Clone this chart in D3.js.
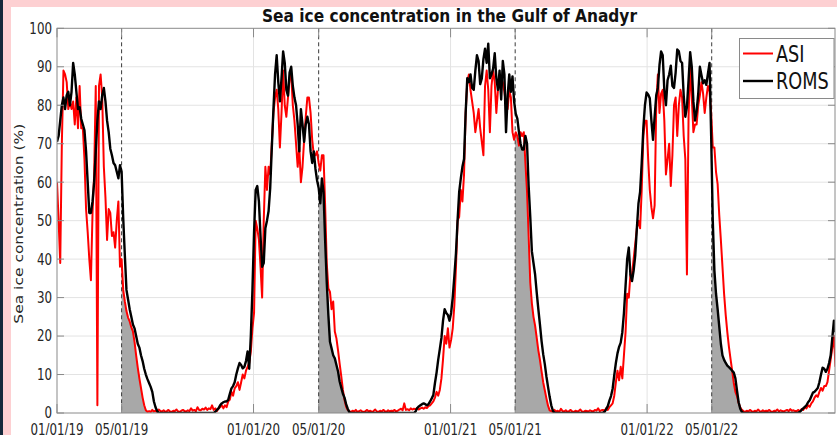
<!DOCTYPE html>
<head>
  <meta charset="utf-8" />
  <script src="https://d3js.org/d3.v7.min.js"></script>
  <style>
    body { margin: 0; background: #fdd0d2; }
    svg { display: block; }
    text { font-family: "DejaVu Sans", sans-serif; fill: #262626; }
  </style>
</head>
<body>
<script>
  // ---- data: values, one value every 3 days from 01/01/19
  var startDate = "2019-01-01";
  var stepDays = 3;

  var asi = [
    60,50,39,70,89,88,86,79,81,79,
    81,75,82,74,85,74,74,66,53,47,
    40,34.5,52,62,85,2,85,88,82,64,
    56,45,53,52,46,47,43,50,55,38,
    40,32,29,26.5,24.8,23.8,22.3,21.2,18.5,15,
    11.8,9,6.5,4,2,0.7,0.3,0.5,0.3,0.8,
    0.4,0.6,0.3,0.9,0.5,0.4,0.7,0.3,0.5,0.8,
    0.4,0.3,0.6,0.5,0.9,0.4,0.3,0.6,0.8,0.5,
    0.4,0.7,0.5,1.2,0.6,0.8,0.5,1.5,0.8,0.7,
    1.1,0.9,1.4,0.8,1.2,1,2,0.8,1.2,0.5,
    1.2,1.5,2,1.2,2,1.5,3,3.5,5.5,4.5,
    6.4,7,8,6,8,10,9,11,12,13,
    16,22,26,50,48,45,38,30,50,64,
    58,64,62,70,78,82,84,79,69,78,
    89,80,77,82,87,88,80,76,70,64,
    69,60,64,71,77,82,82,78,71,67,
    67,68,65,63,67,67,54,39,32.4,31.5,
    27,29,21.2,19.4,16.3,12.8,9.5,6,3.4,1.6,
    0.8,0.5,0.3,0.6,0.4,0.8,0.3,0.5,0.7,0.4,
    0.3,0.5,0.8,0.4,0.6,0.3,0.5,0.9,0.4,0.3,
    0.6,0.4,0.8,0.5,0.3,0.7,0.4,0.6,0.5,0.8,
    0.4,0.6,0.9,1.1,0.7,2.5,0.8,1,0.7,1.2,
    0.9,1.1,1,1.3,0.9,1.2,1.4,1.1,1.5,1.3,
    1.8,2,2.5,3,4,5.5,4.5,6,9,14,
    20,18,22,17,19,22,28,38,50,51,
    58,55,62,78,86,88,84,81,78,73,
    76,79,74,70.5,67,85,89,84,73,85,
    89,86,78,84,86,87,86,83.5,80,79,
    84,82,73,71,73,72,69.5,73,72,73,
    65,57.5,46,34,28.5,25,22.7,19.5,16.3,13.8,
    10.8,8,5.9,3.8,1.9,0.7,0.5,0.3,0.8,0.4,
    0.6,0.3,1.1,0.5,0.4,0.7,0.3,0.5,0.8,0.4,
    0.3,0.6,0.4,0.5,0.9,0.4,0.3,0.6,0.5,0.4,
    0.7,0.5,0.4,0.8,0.6,1.2,0.5,0.7,0.8,0.5,
    1.2,0.8,1.5,2,2.5,4.5,8,11,8.5,12,
    9,15,21,31,30,36,36,40,44,48,
    50,48,58,72,76,76,66,58,53.5,50.6,
    54,80,88,78,83,84,76,62,66,70,
    59,67,80,82,72,80,84,82,72,66,
    36,77,90,82,73,75,75,80,82.5,86,
    83,78,82,85,83.5,78,69,69,62.7,59.5,
    51.5,45,38,31,25.5,21,17.2,14,11,7.8,
    5.5,4.4,2.6,1.5,0.8,0.5,0.3,0.6,0.4,0.8,
    0.5,0.3,0.6,0.4,0.9,0.5,0.3,0.7,0.4,0.6,
    0.5,0.8,0.4,0.3,0.6,0.5,0.9,0.4,0.7,0.5,
    0.4,0.6,0.8,0.5,1,0.6,0.7,0.5,0.5,0.8,
    0.4,1,0.8,1.5,1.2,2,1.6,2.5,3,4,
    4.6,4.2,5.5,6.5,5.8,7,7,8,11,14,
    17,20,12
  ];

  var roms = [
    70.5,72,76,80,82,79,82.6,83.5,80,83.5,
    91,88,83.5,79,79.5,76.5,75,73.5,68,60,
    52,52,55,60,68,76,81,79,82.6,84.5,
    81,76,73,68.7,67,65,64.4,62.7,61,64.4,
    62.7,50.6,41,32,29.5,27,25,23,22,20,
    18,17,15,13.5,11.5,10,8.8,7.8,6.8,5.5,
    3,1.5,0.5,0,0,0,0,0,0,0,
    0,0,0,0,0,0,0,0,0,0,
    0,0,0,0,0,0,0,0,0,0,
    0,0,0,0,0,0,0,0,0.3,0.8,
    1.2,2,2.5,2.8,3,3,3.4,5,6.4,7,
    8,10,11.6,13,12.5,11.6,12,13.5,16,11.5,
    20,32,47,58,59,55,46,38,39,48,
    50,52.5,58.5,69,79,88,93,86,81,87,
    94,91,84,82.5,88.5,90,85,82,80,75,
    68,79,75,70.5,75,77,75,68,65,68,
    63.5,60.5,58.5,54.5,61,57.5,45,34,25.5,18.5,
    16.8,15,14.2,12.5,10.8,8.2,6.6,5,4,2.3,
    1.1,0.2,0,0,0,0,0,0,0,0,
    0,0,0,0,0,0,0,0,0,0,
    0,0,0,0,0,0,0,0,0,0,
    0,0,0,0,0,0,0,0,0,0,
    0,0,0.4,1.3,1.7,2,2.3,2.5,2.3,2,
    2.3,3,3.8,4.7,7.8,10.5,13.8,16.6,19.5,24,
    27,26,25.5,24,26,30,35.5,41.5,50,57.5,
    61,64,66,78,87,86,88,84.5,84,89,
    93,91.5,85.5,87,92,94.7,91,96,87,88,
    89.5,93.5,87,84,89,81.5,91.5,88,73,82.5,
    88,83.5,87.5,81,77.8,76.5,73,70,68.5,68.5,
    72,70,59,51,42,39,36,31.3,27,23,
    18.7,15.3,12.7,9.5,6.8,4.2,2,0.6,0,0,
    0,0,0,0,0,0,0,0,0,0,
    0,0,0,0,0,0,0,0,0,0,
    0,0,0,0,0,0,0,0,0.1,0.3,
    1,1.8,3.2,4.4,6.3,9.8,13,15.5,17.2,18.3,
    21,26,33,40,43,36,34.3,37,41,48,
    54.5,57.5,65,74,80,83.3,82.8,81.8,76,71,
    77,82.6,84.5,90.4,94,93,84,80,86.5,88,
    90.3,85,84.5,88.5,94.5,94,91.5,91,82.5,77,
    79.5,86.5,93.8,90,81,76,78.5,83,90,87.8,
    85.7,86.5,85.3,88.2,91,72,50,37,31,27,
    22.5,18,15,13.8,13,12.3,11.9,11.5,11,10.5,
    9,5.8,2.8,1.1,0.3,0,0,0,0,0,
    0,0,0,0,0,0,0,0,0,0,
    0,0,0,0,0,0,0,0,0,0,
    0,0,0,0,0,0,0,0,0,0.1,
    0.3,0.8,1.2,1.6,2,2.8,3.3,4.3,5.3,5.5,
    6,6.5,8,10,11.8,11.5,10.7,11.5,13,15,
    19.5,24,21
  ];

  var yTicks = [0, 10, 20, 30, 40, 50, 60, 70, 80, 90, 100];
  var xTickDates = ["2019-01-01", "2019-05-01", "2020-01-01", "2020-05-01",
                    "2021-01-01", "2021-05-01", "2022-01-01", "2022-05-01"];
  var meltStarts = ["2019-05-01", "2020-05-01", "2021-05-01", "2022-05-01"];
  var endDate = "2022-12-16";
  var seriesNames = ["ASI", "ROMS"];
  var seriesColors = ["#ff0000", "#000000"];

  if (asi.length !== roms.length) throw new Error("series length mismatch");

  var width = 837, height = 435;
  var plotLeft = 57, plotRight = 835, plotTop = 28.3, plotBottom = 413;
  var squeezeK = 0.79;

  var parse = d3.utcParse("%Y-%m-%d");
  var fmt = d3.utcFormat("%m/%d/%y");
  var t0 = parse(startDate);

  var data = asi.map(function (v, i) {
    return { date: d3.utcDay.offset(t0, i * stepDays), asi: v, roms: roms[i] };
  });

  var x = d3.scaleUtc().domain([t0, parse(endDate)]).range([plotLeft, plotRight]);
  var y = d3.scaleLinear().domain([0, 100]).range([plotBottom, plotTop]);

  var svg = d3.select("body").append("svg")
    .attr("width", width).attr("height", height);

  // frame around the figure
  svg.append("rect").attr("width", width).attr("height", height).attr("fill", "#fdd0d2");
  svg.append("rect").attr("width", 3).attr("height", height).attr("fill", "#15283a");
  svg.append("rect").attr("x", 11).attr("y", 7).attr("width", width - 11)
    .attr("height", height - 7).attr("fill", "#fff");

  // squash text horizontally like the original figure
  function squeeze(sel, k) {
    sel.each(function () {
      var w = this.getComputedTextLength();
      d3.select(this).attr("textLength", w * k).attr("lengthAdjust", "spacingAndGlyphs");
    });
  }

  svg.append("defs").append("clipPath").attr("id", "plot")
    .append("rect").attr("x", plotLeft).attr("y", plotTop - 2)
    .attr("width", plotRight - plotLeft).attr("height", plotBottom - plotTop + 2);

  // grid
  var grid = svg.append("g");
  grid.selectAll("line.h").data(yTicks.slice(1, -1)).join("line")
    .attr("x1", plotLeft).attr("x2", plotRight)
    .attr("y1", function (d) { return y(d); }).attr("y2", function (d) { return y(d); })
    .attr("stroke", "#e3e3e3").attr("stroke-width", 1);
  grid.selectAll("line.v").data(xTickDates.filter(function (d) { return meltStarts.indexOf(d) < 0; }).slice(1)).join("line")
    .attr("x1", function (d) { return x(parse(d)); }).attr("x2", function (d) { return x(parse(d)); })
    .attr("y1", plotTop).attr("y2", plotBottom)
    .attr("stroke", "#e3e3e3").attr("stroke-width", 1);

  var plot = svg.append("g").attr("clip-path", "url(#plot)");

  // grey area under the lower of the two curves after May 1
  var area = d3.area()
    .x(function (d) { return x(d.date); })
    .y0(y(0))
    .y1(function (d) { return y(d.v); });

  meltStarts.forEach(function (s) {
    var m = parse(s);
    var end = d3.utcDay.offset(m, 100);
    var k = d3.utcDay.count(t0, m) / stepDays;
    var i0 = Math.floor(k), f = k - i0;
    function lerp(a) { return a[i0] + (a[i0 + 1] - a[i0]) * f; }
    var pts = [{ date: m, v: Math.min(lerp(asi), lerp(roms)) }].concat(
      data.filter(function (d) { return d.date > m && d.date <= end; })
        .map(function (d) { return { date: d.date, v: Math.min(d.asi, d.roms) }; }));
    plot.append("path").datum(pts).attr("d", area)
      .attr("fill", "#a8a8a8").attr("stroke", "none");
  });

  // dashed May 1 lines
  plot.selectAll("line.melt").data(meltStarts).join("line")
    .attr("x1", function (d) { return x(parse(d)); }).attr("x2", function (d) { return x(parse(d)); })
    .attr("y1", plotTop).attr("y2", plotBottom)
    .attr("stroke", "#3a3a3a").attr("stroke-width", 1).attr("stroke-dasharray", "4,3");

  // series lines
  var lineAsi = d3.line().x(function (d) { return x(d.date); }).y(function (d) { return y(d.asi); });
  var lineRoms = d3.line().x(function (d) { return x(d.date); }).y(function (d) { return y(d.roms); });

  plot.append("path").datum(data).attr("d", lineAsi)
    .attr("fill", "none").attr("stroke", seriesColors[0]).attr("stroke-width", 2)
    .attr("stroke-linejoin", "round");
  plot.append("path").datum(data).attr("d", lineRoms)
    .attr("fill", "none").attr("stroke", seriesColors[1]).attr("stroke-width", 2.4)
    .attr("stroke-linejoin", "round");

  // axes box
  var axisColor = "#8a8a8a";
  svg.append("rect").attr("x", plotLeft).attr("y", plotTop).attr("width", plotRight - plotLeft)
    .attr("height", plotBottom - plotTop).attr("fill", "none").attr("stroke", axisColor).attr("stroke-width", 1);

  // y ticks (both sides) and labels
  var yt = svg.append("g");
  yt.selectAll("line.l").data(yTicks).join("line")
    .attr("x1", plotLeft).attr("x2", plotLeft + 7)
    .attr("y1", function (d) { return y(d); }).attr("y2", function (d) { return y(d); })
    .attr("stroke", axisColor);
  yt.selectAll("line.r").data(yTicks).join("line")
    .attr("x1", plotRight - 7).attr("x2", plotRight)
    .attr("y1", function (d) { return y(d); }).attr("y2", function (d) { return y(d); })
    .attr("stroke", axisColor);
  yt.selectAll("text").data(yTicks).join("text")
    .attr("x", plotLeft - 5).attr("y", function (d) { return y(d); })
    .attr("dy", "0.36em").attr("text-anchor", "end").style("font-size", "15px")
    .text(function (d) { return d; })
    .call(squeeze, squeezeK);

  // x ticks (bottom and top) and labels
  var xt = svg.append("g");
  xt.selectAll("line.b").data(xTickDates).join("line")
    .attr("x1", function (d) { return x(parse(d)); }).attr("x2", function (d) { return x(parse(d)); })
    .attr("y1", plotBottom).attr("y2", plotBottom - 9).attr("stroke", axisColor);
  xt.selectAll("line.t").data(xTickDates).join("line")
    .attr("x1", function (d) { return x(parse(d)); }).attr("x2", function (d) { return x(parse(d)); })
    .attr("y1", plotTop).attr("y2", plotTop + 9).attr("stroke", axisColor);
  xt.selectAll("text").data(xTickDates).join("text")
    .attr("x", function (d) { return x(parse(d)); }).attr("y", 434.5)
    .attr("text-anchor", "middle").style("font-size", "15px")
    .text(function (d) { return fmt(parse(d)); })
    .call(squeeze, squeezeK);

  // y axis title
  svg.append("text")
    .attr("transform", "translate(23," + ((plotTop + plotBottom) / 2 + 3) + ") scale(0.79,1) rotate(-90)")
    .attr("text-anchor", "middle").style("font-size", "15.5px")
    .text("Sea ice concentration (%)");

  // title
  svg.append("text")
    .attr("x", 449.5).attr("y", 21.5).attr("text-anchor", "middle")
    .style("font-size", "17px").style("font-weight", "bold").style("fill", "#111")
    .attr("textLength", 375).attr("lengthAdjust", "spacingAndGlyphs")
    .text("Sea ice concentration in the Gulf of Anadyr");

  // legend
  var lg = svg.append("g");
  lg.append("rect").attr("x", 739.5).attr("y", 38.5).attr("width", 94.5).attr("height", 60)
    .attr("fill", "#fff").attr("stroke", "#8a8a8a").attr("stroke-width", 1);
  var rows = lg.selectAll("g").data(seriesNames).join("g")
    .attr("transform", function (d, i) { return "translate(0," + (53.5 + i * 27.5) + ")"; });
  rows.append("line").attr("x1", 743).attr("x2", 773).attr("y1", 0).attr("y2", 0)
    .attr("stroke", function (d, i) { return seriesColors[i]; })
    .attr("stroke-width", function (d, i) { return i ? 2.4 : 2; });
  rows.append("text").attr("x", 776).attr("y", 8.3).style("font-size", "23px")
    .style("fill", "#111")
    .text(function (d) { return d; })
    .call(squeeze, 0.77);
</script>
</body>
